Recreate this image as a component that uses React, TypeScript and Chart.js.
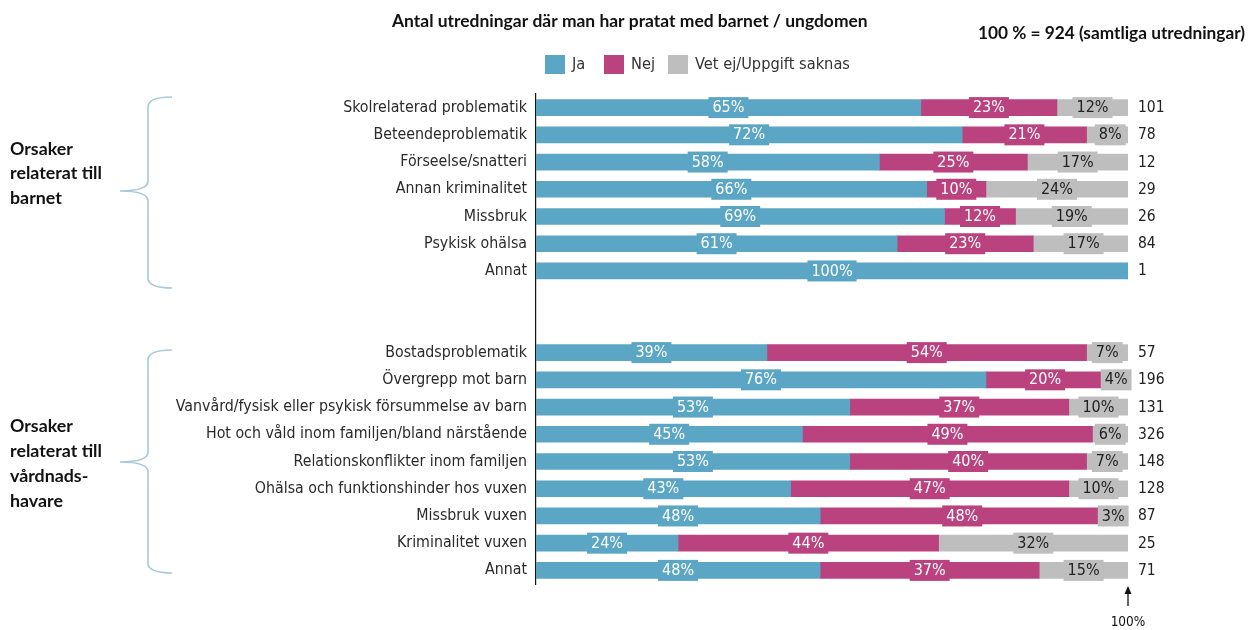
import React, { useEffect, useRef } from 'react';
import { Chart, registerables } from 'chart.js';

Chart.register(...registerables);

// ---------- data ----------
const CATEGORIES = [
  'Skolrelaterad problematik',
  'Beteendeproblematik',
  'Förseelse/snatteri',
  'Annan kriminalitet',
  'Missbruk',
  'Psykisk ohälsa',
  'Annat',
  '',
  '',
  'Bostadsproblematik',
  'Övergrepp mot barn',
  'Vanvård/fysisk eller psykisk försummelse av barn',
  'Hot och våld inom familjen/bland närstående',
  'Relationskonflikter inom familjen',
  'Ohälsa och funktionshinder hos vuxen',
  'Missbruk vuxen',
  'Kriminalitet vuxen',
  'Annat',
];

const JA = [65, 72, 58, 66, 69, 61, 100, null, null, 39, 76, 53, 45, 53, 43, 48, 24, 48];
const NEJ = [23, 21, 25, 10, 12, 23, 0, null, null, 54, 20, 37, 49, 40, 47, 48, 44, 37];
const VET_EJ = [12, 8, 17, 24, 19, 17, 0, null, null, 7, 4, 10, 6, 7, 10, 3, 32, 15];
const COUNTS = [101, 78, 12, 29, 26, 84, 1, null, null, 57, 196, 131, 326, 148, 128, 87, 25, 71];

const SERIES_NAMES = ['Ja', 'Nej', 'Vet ej/Uppgift saknas'];
const TITLE = 'Antal utredningar där man har pratat med barnet / ungdomen';
const NOTE = '100 % = 924 (samtliga utredningar)';
const GROUP1_LINES = ['Orsaker', 'relaterat till', 'barnet'];
const GROUP2_LINES = ['Orsaker', 'relaterat till', 'vårdnads-', 'havare'];
const ARROW_LABEL = '100%';

// ---------- styles ----------
const COLORS = ['#5BA6C4', '#B9427F', '#BEBEBE'];
const LABEL_TEXT = ['#FFFFFF', '#FFFFFF', '#222222'];
const NARROW = '"DejaVu Sans Condensed", "Liberation Sans Narrow", sans-serif';
const HEAD = 'Lato, "Open Sans", sans-serif';
const BRACE_COLOR = '#A9C8DB';

function fitFont(ctx: CanvasRenderingContext2D, text: string, weight: string, family: string, target: number) {
  ctx.font = `${weight} 20px ${family}`;
  const w = ctx.measureText(text).width;
  const size = (20 * target) / w;
  return `${weight} ${size.toFixed(2)}px ${family}`;
}

function drawBrace(ctx: CanvasRenderingContext2D, top: number, mid: number, bottom: number) {
  const xo = 172;
  const xs = 148;
  const xt = 120;
  const r = 10;
  ctx.beginPath();
  ctx.moveTo(xo, top);
  ctx.quadraticCurveTo(xs, top, xs, top + r);
  ctx.lineTo(xs, mid - r);
  ctx.quadraticCurveTo(xs, mid, xt, mid);
  ctx.quadraticCurveTo(xs, mid, xs, mid + r);
  ctx.lineTo(xs, bottom - r);
  ctx.quadraticCurveTo(xs, bottom, xo, bottom);
  ctx.stroke();
}

const barLabelsPlugin = {
  id: 'barLabels',
  afterDatasetsDraw(chart: any) {
    const ctx: CanvasRenderingContext2D = chart.ctx;
    ctx.save();
    ctx.font = `16px ${NARROW}`;
    ctx.textAlign = 'center';
    ctx.textBaseline = 'middle';
    chart.data.datasets.forEach((ds: any, i: number) => {
      const meta = chart.getDatasetMeta(i);
      meta.data.forEach((el: any, j: number) => {
        const v = ds.data[j];
        if (v == null || v <= 0) return;
        const cx = (el.base + el.x) / 2;
        const cy = el.y;
        const text = `${v}%`;
        const w = ctx.measureText(text).width;
        ctx.fillStyle = COLORS[i];
        ctx.fillRect(cx - w / 2 - 4, cy - 10.5, w + 8, 21);
        ctx.fillStyle = LABEL_TEXT[i];
        ctx.fillText(text, cx, cy + 0.5);
      });
    });
    // counts to the right of the bars
    const meta0 = chart.getDatasetMeta(0);
    ctx.textAlign = 'left';
    ctx.fillStyle = '#222';
    ctx.font = `15.5px ${NARROW}`;
    meta0.data.forEach((el: any, j: number) => {
      const c = COUNTS[j];
      if (c == null) return;
      ctx.fillText(String(c), chart.chartArea.right + 10, el.y + 0.5);
    });
    ctx.restore();
  },
};

const overlayPlugin = {
  id: 'overlay',
  afterDraw(chart: any) {
    const ctx: CanvasRenderingContext2D = chart.ctx;
    ctx.save();
    ctx.textBaseline = 'middle';
    ctx.fillStyle = '#111';

    // title
    ctx.font = fitFont(ctx, TITLE, 'bold', HEAD, 476);
    ctx.textAlign = 'left';
    ctx.fillText(TITLE, 392, 21);

    // note
    ctx.font = fitFont(ctx, NOTE, 'bold', HEAD, 267);
    ctx.fillText(NOTE, 978, 33);

    // legend
    const legFont = fitFont(ctx, SERIES_NAMES[2], 'normal', NARROW, 155);
    const boxX = [545, 604, 668];
    const txtX = [572, 631, 695];
    SERIES_NAMES.forEach((name, i) => {
      ctx.fillStyle = COLORS[i];
      ctx.fillRect(boxX[i], 55, 20, 19);
      ctx.fillStyle = '#333';
      ctx.font = legFont;
      ctx.fillText(name, txtX[i], 65);
    });

    // group labels
    ctx.fillStyle = '#111';
    ctx.font = fitFont(ctx, 'relaterat till', 'bold', HEAD, 92);
    GROUP1_LINES.forEach((t, i) => ctx.fillText(t, 10, 149 + i * 24.5));
    GROUP2_LINES.forEach((t, i) => ctx.fillText(t, 10, 426 + i * 25));

    // braces
    ctx.strokeStyle = BRACE_COLOR;
    ctx.lineWidth = 1.6;
    drawBrace(ctx, 97, 191, 288);
    drawBrace(ctx, 350, 462, 573);

    // arrow to 100%
    const x100 = chart.scales.x.getPixelForValue(100);
    ctx.strokeStyle = '#111';
    ctx.fillStyle = '#111';
    ctx.lineWidth = 1.3;
    ctx.beginPath();
    ctx.moveTo(x100, 606);
    ctx.lineTo(x100, 593);
    ctx.stroke();
    ctx.beginPath();
    ctx.moveTo(x100, 586);
    ctx.lineTo(x100 - 3.5, 594);
    ctx.lineTo(x100 + 3.5, 594);
    ctx.closePath();
    ctx.fill();
    ctx.textAlign = 'center';
    ctx.font = `13.5px ${NARROW}`;
    ctx.fillText(ARROW_LABEL, x100, 622);

    ctx.restore();
  },
};

export default function App() {
  const ref = useRef<HTMLCanvasElement>(null);

  useEffect(() => {
    if (!ref.current) return;
    const chart = new Chart(ref.current, {
      type: 'bar',
      data: {
        labels: CATEGORIES,
        datasets: [
          { label: SERIES_NAMES[0], data: JA, backgroundColor: COLORS[0] },
          { label: SERIES_NAMES[1], data: NEJ, backgroundColor: COLORS[1] },
          { label: SERIES_NAMES[2], data: VET_EJ, backgroundColor: COLORS[2] },
        ] as any,
      },
      options: {
        indexAxis: 'y',
        responsive: false,
        animation: false,
        devicePixelRatio: 1,
        layout: { padding: { left: 0, right: 123, top: 94, bottom: 46 } },
        datasets: { bar: { barThickness: 16, borderWidth: 0 } },
        plugins: {
          legend: { display: false },
          title: { display: false },
          tooltip: { enabled: false },
        },
        scales: {
          x: { stacked: true, min: 0, max: 100, display: false },
          y: {
            stacked: true,
            afterFit: (scale: any) => {
              scale.width = 536;
            },
            grid: { display: true, drawOnChartArea: false, drawTicks: false, color: 'rgba(0,0,0,0)' },
            border: { display: true, color: '#111', width: 1.2 },
            ticks: {
              autoSkip: false,
              padding: 9,
              color: '#2a2a2a',
              font: { family: NARROW, size: 15.8 },
            },
          },
        },
      } as any,
      plugins: [barLabelsPlugin, overlayPlugin],
    });
    return () => chart.destroy();
  }, []);

  return (
    <div style={{ position: 'absolute', left: 0, top: 0, width: 1251, height: 630, background: '#fff' }}>
      <canvas ref={ref} width={1251} height={630} />
    </div>
  );
}
